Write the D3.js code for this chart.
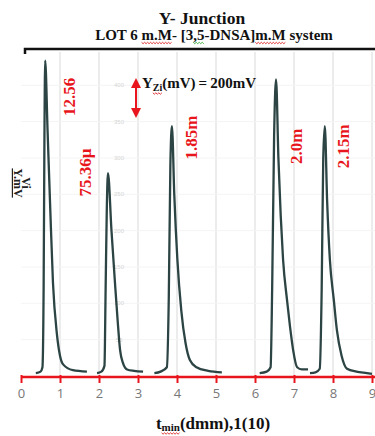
<!DOCTYPE html>
<html>
<head>
<meta charset="utf-8">
<script src="https://cdn.jsdelivr.net/npm/d3@7"></script>
<style>
  html, body { margin: 0; padding: 0; background: #fff; }
  svg { display: block; }
  .serif { font-family: "Liberation Serif", "DejaVu Serif", serif; font-weight: bold; }
</style>
</head>
<body>
<svg id="chart" width="375" height="436"></svg>
<script>
(function () {
  'use strict';

  // x tick values (t, dmm) and faint y tick values (mV)
  var xTicks = [0, 1, 2, 3, 4, 5, 6, 7, 8, 9];
  var yTicks = [50, 100, 150, 200, 250, 300, 350, 400];

  // signal, one array per peak: [t, mV]
  var peak1 = [[0.38, 4], [0.50, 6], [0.55, 12], [0.58, 120], [0.60, 320], [0.62, 434],
               [0.68, 340], [0.75, 230], [0.82, 128], [0.92, 58], [1.00, 28], [1.08, 16],
               [1.33, 8], [1.69, 6]];
  var peak2 = [[1.95, 4], [2.06, 6], [2.14, 14], [2.17, 120], [2.20, 230], [2.23, 279],
               [2.32, 200], [2.41, 128], [2.48, 75], [2.54, 36], [2.62, 17], [2.72, 9],
               [2.90, 7], [3.13, 6]];
  var peak3 = [[3.42, 4], [3.58, 6], [3.74, 12], [3.79, 110], [3.83, 290], [3.87, 344],
               [3.93, 250], [4.01, 160], [4.11, 90], [4.22, 45], [4.33, 22], [4.50, 12],
               [4.80, 7], [5.15, 5]];
  var peak4 = [[6.12, 4], [6.30, 6], [6.40, 12], [6.44, 120], [6.49, 330], [6.54, 408],
               [6.60, 300], [6.66, 220], [6.72, 160], [6.82, 105], [6.90, 67], [6.98, 35],
               [7.08, 12], [7.20, 9], [7.36, 9]];
  var peak5 = [[7.41, 4], [7.55, 5], [7.66, 10], [7.71, 120], [7.75, 300], [7.79, 344],
               [7.85, 240], [7.92, 160], [8.02, 105], [8.10, 63], [8.22, 28], [8.36, 10],
               [8.60, 6], [8.87, 4], [9.00, 3]];
  var peaks = [peak1, peak2, peak3, peak4, peak5];

  // red labels beside the peaks: [t, mV, text]
  var peakLabels = [[1.23, 384, '12.56'], [1.65, 280, '75.36\u00b5'], [4.37, 328, '1.85m'],
                    [7.05, 316, '2.0m'], [8.25, 316, '2.15m']];

  var svg = d3.select('#chart');

  var x = d3.scaleLinear().domain([0, 9]).range([21, 372]);
  var y = d3.scaleLinear().domain([0, 450]).range([376, 49]);

  // squiggle under a piece of text, like a spell checker mark
  function squiggle(node, color, base) {
        var b = node.getBBox();
        var pts = [], i = 0, xx;
        for (xx = b.x; xx <= b.x + b.width; xx += 1.5, i++) {
              pts.push([xx, base + (i % 2 ? 1.2 : -0.2)]);
        }
        svg.append('path')
              .attr('d', d3.line()(pts))
              .style('fill', 'none')
              .style('stroke', color)
              .style('stroke-width', 0.9);
  }

  // faint grid
  svg.append('g')
        .selectAll('line')
        .data(xTicks.slice(1))
        .enter().append('line')
        .attr('x1', function(d) { return x(d); })
        .attr('x2', function(d) { return x(d); })
        .attr('y1', 52)
        .attr('y2', y(0))
        .style('stroke', '#e6e6e6')
        .style('stroke-width', 1.5);

  svg.append('g')
        .selectAll('line')
        .data(yTicks)
        .enter().append('line')
        .attr('x1', x(0))
        .attr('x2', 375)
        .attr('y1', function(d) { return y(d); })
        .attr('y2', function(d) { return y(d); })
        .style('stroke', '#f4f4f4')
        .style('stroke-width', 1);

  svg.append('g')
        .selectAll('text')
        .data(yTicks)
        .enter().append('text')
        .attr('x', 119)
        .attr('y', function(d) { return y(d) + 2; })
        .attr('text-anchor', 'middle')
        .style('font-family', 'Liberation Sans, sans-serif')
        .style('font-size', '6px')
        .style('fill', '#d6d6d6')
        .text(function(d) { return d; });

  // top frame line
  svg.append('path')
        .attr('d', 'M25,54 L25,49 L375,49')
        .style('fill', 'none')
        .style('stroke', '#111')
        .style('stroke-width', 2.5);

  // signal
  var line = d3.line()
        .x(function(d) { return x(d[0]); })
        .y(function(d) { return y(d[1]); })
        .curve(d3.curveMonotoneX);

  svg.append('g')
        .selectAll('path')
        .data(peaks)
        .enter().append('path')
        .attr('d', line)
        .style('fill', 'none')
        .style('stroke', '#2c4444')
        .style('stroke-width', 2.3)
        .style('stroke-linejoin', 'round');

  // red x axis
  var xAxis = d3.axisBottom(x)
        .tickValues(xTicks)
        .tickSize(6)
        .tickPadding(6)
        .tickFormat(d3.format('d'));

  var gx = svg.append('g')
        .attr('transform', 'translate(0,' + (y(0) + 1) + ')')
        .call(xAxis);
  gx.select('.domain').remove();
  gx.append('line')
        .attr('x1', x(0))
        .attr('x2', 375)
        .style('stroke', '#e8161c')
        .style('stroke-width', 2.5);
  gx.selectAll('.tick line')
        .attr('y1', -2)
        .style('stroke', '#e8161c')
        .style('stroke-width', 2);
  gx.selectAll('.tick text')
        .style('font-family', 'Open Sans, sans-serif')
        .style('font-size', '13px')
        .style('fill', '#777');

  // peak labels
  svg.append('g')
        .selectAll('text')
        .data(peakLabels)
        .enter().append('text')
        .attr('class', 'serif')
        .attr('transform', function(d) {
              return 'translate(' + x(d[0]) + ',' + y(d[1]) + ') rotate(-90)';
        })
        .attr('text-anchor', 'middle')
        .attr('dy', '0.35em')
        .style('font-size', '17px')
        .style('fill', '#e8161c')
        .text(function(d) { return d[2]; });

  // scale annotation with red double arrow
  var ax = 136;
  svg.append('line')
        .attr('x1', ax).attr('x2', ax)
        .attr('y1', 85).attr('y2', 112)
        .style('stroke', '#e8161c')
        .style('stroke-width', 2);
  svg.append('path')
        .attr('d', 'M' + ax + ',78 L' + (ax - 5) + ',88 L' + (ax + 5) + ',88 Z')
        .style('fill', '#e8161c');
  svg.append('path')
        .attr('d', 'M' + ax + ',118 L' + (ax - 5) + ',108 L' + (ax + 5) + ',108 Z')
        .style('fill', '#e8161c');

  var ann = svg.append('text')
        .attr('class', 'serif')
        .attr('x', 142)
        .attr('y', 88)
        .style('font-size', '15px')
        .style('fill', '#111');
  ann.append('tspan').text('Y');
  var annSub = ann.append('tspan').attr('dy', 3).style('font-size', '10px').text('Zi');
  ann.append('tspan').attr('dy', -3).text('(mV)\u2009=\u2009200mV');
  squiggle(annSub.node(), '#d22', 93);

  // titles
  svg.append('text')
        .attr('class', 'serif')
        .attr('x', 202)
        .attr('y', 24)
        .attr('text-anchor', 'middle')
        .style('font-size', '17.5px')
        .style('fill', '#111')
        .text('Y- Junction');

  var sub = svg.append('text')
        .attr('class', 'serif')
        .attr('x', 214)
        .attr('y', 40)
        .attr('text-anchor', 'middle')
        .style('font-size', '15px')
        .style('fill', '#111');
  sub.append('tspan').text('LOT 6 ');
  var w1 = sub.append('tspan').text('m.M');
  sub.append('tspan').text('- [3');
  var w2 = sub.append('tspan').text(',5');
  sub.append('tspan').text('-DNSA]');
  var w3 = sub.append('tspan').text('m.M');
  sub.append('tspan').text(' system');
  squiggle(w1.node(), '#d22', 42.5);
  squiggle(w2.node(), '#3a3', 42.5);
  squiggle(w3.node(), '#d22', 42.5);

  // x axis title
  var xt = svg.append('text')
        .attr('class', 'serif')
        .attr('x', 213)
        .attr('y', 429)
        .attr('text-anchor', 'middle')
        .style('font-size', '17px')
        .style('fill', '#111');
  xt.append('tspan').text('t');
  var xtSub = xt.append('tspan').attr('dy', 2).style('font-size', '11px').text('min');
  xt.append('tspan').attr('dy', -2).text('(dmm),1(10)');
  squiggle(xtSub.node(), '#d22', 433);

  // y axis title, partly hidden in the picture
  svg.append('text')
        .attr('class', 'serif')
        .attr('transform', 'translate(14,183) rotate(90)')
        .attr('text-anchor', 'middle')
        .style('font-size', '12px')
        .style('fill', '#222')
        .style('text-decoration', 'underline')
        .text('Y.mV');
  svg.append('text')
        .attr('class', 'serif')
        .attr('transform', 'translate(22,183) rotate(90)')
        .attr('text-anchor', 'middle')
        .style('font-size', '12px')
        .style('fill', '#222')
        .text('Vi');
})();
</script>
</body>
</html>
